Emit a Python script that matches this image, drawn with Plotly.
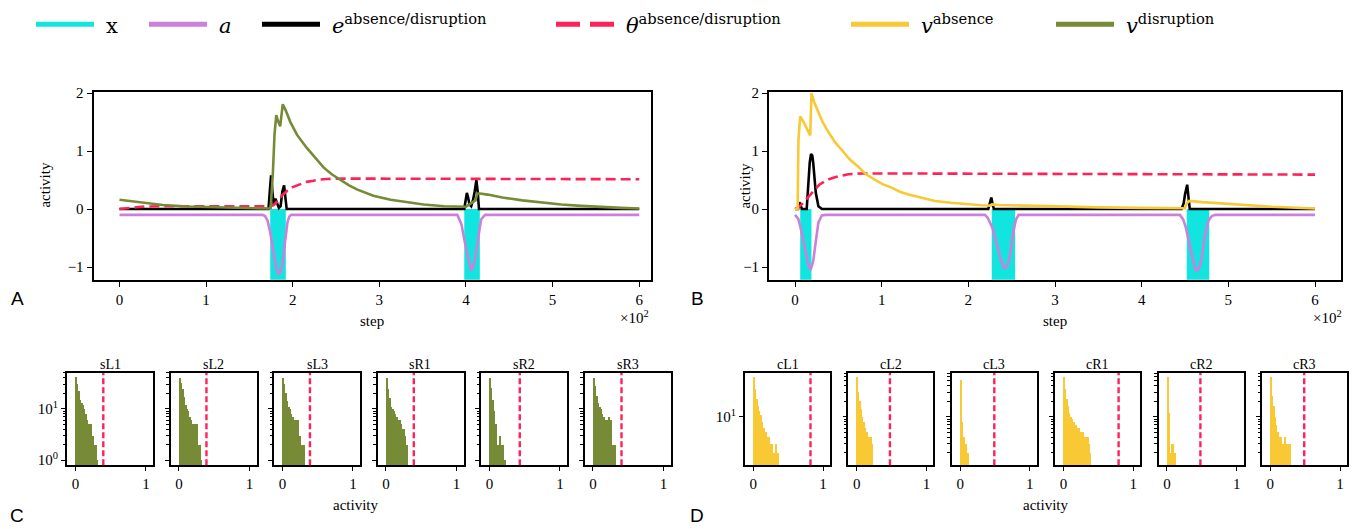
import plotly.graph_objects as go

W, H = 1356, 529
SERIF = "Liberation Serif"
LEG_SERIF = "DejaVu Serif"
SANS = "Liberation Sans"

C_X = "#12e5e0"
C_A = "#cc80dc"
C_E = "#000000"
C_T = "#ff2258"
C_VA = "#f8c935"
C_VD = "#778b36"

# ---------------- Panel A (disruption) ----------------
A_x_steps = [0, 174, 192, 398, 416, 600]
A_x_on = [0, 1, 0, 1, 0, 0]

A_a_steps = [0, 165, 168, 171, 174, 177, 180, 182, 184, 186, 188, 190, 192, 194, 196, 198,
             390, 394.7, 399, 403, 406, 409.7, 413.8, 417.4, 422, 600]
A_a_vals = [-0.1, -0.1, -0.12, -0.2, -0.4, -0.7, -0.95, -1.08, -1.12, -1.08, -0.95, -0.7, -0.45, -0.22, -0.13, -0.1,
            -0.1, -0.26, -0.6, -0.88, -1.07, -0.93, -0.49, -0.18, -0.1, -0.1]

A_e_steps = [0, 172, 173.5, 175, 176.5, 178, 180, 182, 184, 186, 188, 190, 191.5, 193,
             398, 399.5, 401, 402.5, 404, 406, 408, 410, 412, 413.5, 415, 600]
A_e_vals = [0, 0, 0.3, 0.58, 0.3, 0.08, 0.18, 0.1, 0.02, 0.05, 0.3, 0.41, 0.2, 0,
            0, 0.15, 0.28, 0.2, 0.08, 0.05, 0.15, 0.3, 0.5, 0.3, 0, 0]

A_th_steps = [0, 8, 15, 25, 34, 50, 100, 150, 174, 178, 181, 185, 188, 194, 200, 208, 216, 224, 231, 240,
              247, 260, 300, 400, 500, 600]
A_th_vals = [0.0, 0.015, 0.03, 0.04, 0.045, 0.05, 0.05, 0.05, 0.05, 0.07, 0.11, 0.17, 0.24, 0.32, 0.38, 0.43,
             0.47, 0.49, 0.51, 0.52, 0.525, 0.525, 0.525, 0.52, 0.52, 0.515]

A_v_steps = [0, 10, 20, 34, 50, 79, 100, 124, 150, 172, 174.5, 177, 179, 181, 183, 185.5, 188.5, 192, 197,
             205, 216, 226, 235.5, 245, 255, 265, 274, 293, 313, 330, 351, 375, 397, 400, 404, 408, 411,
             413, 416, 425, 442, 465, 488, 510, 533, 555, 579, 600]
A_v_vals = [0.16, 0.14, 0.12, 0.10, 0.07, 0.045, 0.035, 0.02, 0.015, 0.01, 0.02, 0.6, 1.3, 1.62, 1.52, 1.43,
            1.81, 1.70, 1.51, 1.28, 1.06, 0.88, 0.72, 0.6, 0.5, 0.41, 0.34, 0.23, 0.16, 0.12, 0.08, 0.05,
            0.03, 0.04, 0.08, 0.12, 0.15, 0.27, 0.27, 0.25, 0.2, 0.15, 0.11, 0.08, 0.055, 0.035, 0.02, 0.01]

# ---------------- Panel B (absence) ----------------
B_x_steps = [0, 6, 19, 227, 254, 452, 478, 600]
B_x_on = [0, 1, 0, 1, 0, 1, 0, 0]

B_a_steps = [0, 3.8, 7.7, 11.5, 15.4, 18, 21, 24, 27, 31, 35,
             219, 222, 227.7, 234.6, 238, 241.6, 245, 248, 251.8, 255, 258,
             444, 448, 451, 455, 458, 461, 463, 466, 469, 473, 477, 481, 485, 600]
B_a_vals = [-0.1, -0.17, -0.4, -0.68, -0.96, -1.05, -0.9, -0.56, -0.23, -0.11, -0.1,
            -0.1, -0.14, -0.32, -0.71, -0.9, -1.02, -0.98, -0.8, -0.4, -0.18, -0.1,
            -0.1, -0.18, -0.32, -0.58, -0.82, -1.0, -1.07, -1.03, -0.88, -0.45, -0.2, -0.12, -0.1, -0.1]

B_e_steps = [0, 3.5, 5, 6.5, 8, 13.5, 15.4, 17, 18.5, 20, 21, 22.5, 24, 27, 31,
             223, 225, 226.5, 228, 229.5, 446, 448.5, 450, 451.5, 452.5, 454, 455.5, 600]
B_e_vals = [0, 0, 0.12, 0.05, 0, 0, 0.45, 0.8, 0.95, 0.92, 0.8, 0.55, 0.28, 0.05, 0,
            0, 0.12, 0.2, 0.08, 0, 0, 0.1, 0.25, 0.38, 0.42, 0.2, 0, 0]

B_th_steps = [0, 4, 7.7, 11.5, 15.4, 19, 23, 28, 34.6, 40, 46, 54, 61.5, 70, 77, 100, 200, 300, 400, 500, 600]
B_th_vals = [0, 0.03, 0.08, 0.14, 0.2, 0.27, 0.34, 0.42, 0.48, 0.52, 0.55, 0.58, 0.6, 0.61, 0.615, 0.615,
             0.61, 0.605, 0.6, 0.6, 0.595]

B_v_steps = [0, 3, 4, 6, 10, 14, 17.5, 19, 22, 27, 32, 38.5, 46, 54, 63, 73, 82, 92, 101, 111.5, 121, 131,
             150, 161.5, 180, 201, 215, 225, 227, 235, 260, 300, 350, 400, 450, 452, 455, 470, 500, 521,
             550, 600]
B_v_vals = [0, 0, 1.2, 1.6, 1.5, 1.38, 1.27, 2.0, 1.85, 1.67, 1.5, 1.33, 1.16, 1.02, 0.86, 0.73, 0.6, 0.51,
            0.43, 0.37, 0.3, 0.25, 0.18, 0.14, 0.11, 0.08, 0.065, 0.06, 0.08, 0.07, 0.06, 0.045, 0.03, 0.02,
            0.015, 0.1, 0.14, 0.12, 0.09, 0.06, 0.04, 0.01]

# ---------------- Histograms ----------------
HIST_BIN = 0.02
C_names = ["sL1", "sL2", "sL3", "sR1", "sR2", "sR3"]
C_counts = [
    [42, 30, 22, 15, 13, 12, 10, 8, 6, 5, 4, 5, 3, 2, 2, 1],
    [40, 32, 24, 17, 12, 10, 9, 7, 6, 5, 5, 5, 5, 2, 2, 1],
    [40, 30, 20, 14, 11, 10, 8, 7, 6, 6, 6, 6, 3, 2, 2, 2],
    [40, 25, 16, 11, 10, 9, 8, 7, 6, 6, 5, 4, 4, 3, 2],
    [40, 26, 15, 9, 5, 2, 2, 3, 2, 2, 1, 1],
    [40, 28, 18, 13, 11, 10, 8, 7, 6, 6, 6, 7, 6, 2, 2, 2],
]
C_thresh = [0.395, 0.39, 0.39, 0.395, 0.43, 0.405]

D_names = ["cL1", "cL2", "cL3", "cR1", "cR2", "cR3"]
D_counts = [
    [61, 35, 22, 16, 13, 11, 8, 6, 5, 5, 4, 4, 3, 3, 2, 2, 3, 2],
    [59, 30, 20, 14, 10, 8, 6, 5, 4, 4, 4, 3],
    [52, 8, 4, 3, 3, 2],
    [59, 35, 22, 16, 12, 10, 9, 8, 7, 7, 6, 6, 5, 5, 5, 4, 4, 4, 3, 2],
    [59, 12, 2, 3, 3, 2],
    [59, 25, 16, 10, 7, 5, 4, 4, 3, 3, 4, 3, 3, 3, 3],
]
D_thresh = [0.82, 0.476, 0.49, 0.79, 0.48, 0.486]

step_ticks = [0, 100, 200, 300, 400, 500, 600]
step_ticktext = ["0", "1", "2", "3", "4", "5", "6"]
act_ticks = [-1, 0, 1, 2]
act_ticktext = ["\u22121", "0", "1", "2"]


def fx(p):
    return p / W


def fy(p):
    return 1 - p / H


X_FILL = 1.6
LW = 2.6
fig = go.Figure()


def add_panel(xa, ya, xs, xon, as_, av, es, ev, ts, tv, vs, vv, vcol):
    fig.add_trace(go.Scatter(x=xs, y=[-X_FILL * o for o in xon], mode="lines", line=dict(width=0, shape="hv"),
                             fill="tozeroy", fillcolor=C_X, showlegend=False, xaxis=xa, yaxis=ya, hoverinfo="skip"))
    fig.add_trace(go.Scatter(x=as_, y=av, mode="lines", line=dict(color=C_A, width=LW),
                             showlegend=False, xaxis=xa, yaxis=ya))
    fig.add_trace(go.Scatter(x=es, y=ev, mode="lines", line=dict(color=C_E, width=LW),
                             showlegend=False, xaxis=xa, yaxis=ya))
    fig.add_trace(go.Scatter(x=ts, y=tv, mode="lines", line=dict(color=C_T, width=LW, dash="10px,5px"),
                             showlegend=False, xaxis=xa, yaxis=ya))
    fig.add_trace(go.Scatter(x=vs, y=vv, mode="lines", line=dict(color=vcol, width=LW),
                             showlegend=False, xaxis=xa, yaxis=ya))


add_panel("x", "y", A_x_steps, A_x_on, A_a_steps, A_a_vals, A_e_steps, A_e_vals,
          A_th_steps, A_th_vals, A_v_steps, A_v_vals, C_VD)
add_panel("x2", "y2", B_x_steps, B_x_on, B_a_steps, B_a_vals, B_e_steps, B_e_vals,
          B_th_steps, B_th_vals, B_v_steps, B_v_vals, C_VA)

GAP = "\u2004"
leg_items = [
    (GAP + "x", C_X, "solid", 35),
    (GAP + "<i>a</i>", C_A, "solid", 148),
    (GAP + "<i>e</i><sup>absence/disruption</sup>", C_E, "solid", 261),
    (GAP + "<i>\u03b8</i><sup>absence/disruption</sup>", C_T, "24px,10px", 555),
    (GAP + "<i>v</i><sup>absence</sup>", C_VA, "solid", 850),
    (GAP + "<i>v</i><sup>disruption</sup>", C_VD, "solid", 1055),
]

axis_line = dict(showline=True, linecolor="black", linewidth=1.8, mirror=True, ticks="outside",
                 ticklen=5, tickwidth=1.3, tickcolor="black", showgrid=False, zeroline=False,
                 tickfont=dict(family=SERIF, size=15, color="black"))

layout = dict(
    width=W, height=H, margin=dict(l=0, r=0, t=0, b=0),
    paper_bgcolor="white", plot_bgcolor="white",
    font=dict(family=SERIF, size=15, color="black"),
    showlegend=True, bargap=0,
)

for i, (name, col, dash, xp) in enumerate(leg_items):
    lname = "legend" if i == 0 else f"legend{i + 1}"
    fig.add_trace(go.Scatter(x=[None], y=[None], mode="lines", name=name,
                             line=dict(color=col, width=5, dash=dash), legend=lname, xaxis="x", yaxis="y"))
    layout[lname] = dict(x=fx(xp - 4), y=fy(18), xanchor="left", yanchor="middle", orientation="h",
                         bgcolor="rgba(0,0,0,0)", itemwidth=58,
                         font=dict(family=LEG_SERIF, size=21, color="black"))

A_dom = [fx(93.5), fx(650.5)]
B_dom = [fx(769), fx(1341)]
top_dom = [fy(278), fy(86.7)]
layout["xaxis"] = dict(axis_line, domain=A_dom, range=[-30, 613], tickvals=step_ticks, ticktext=step_ticktext, anchor="y")
layout["yaxis"] = dict(axis_line, domain=top_dom, range=[-1.22, 2.02], tickvals=act_ticks, ticktext=act_ticktext, anchor="x")
layout["xaxis2"] = dict(axis_line, domain=B_dom, range=[-30, 630], tickvals=step_ticks, ticktext=step_ticktext, anchor="y2")
layout["yaxis2"] = dict(axis_line, domain=top_dom, range=[-1.22, 2.02], tickvals=act_ticks, ticktext=act_ticktext, anchor="x2")

annotations = []
shapes = []
hist_dom_y = [fy(467), fy(373)]
minor_vals = [2, 3, 4, 5, 6, 7, 8, 9, 20, 30, 40, 50, 60, 70, 80, 90]


def add_hist_row(names, counts, thresh, lefts, width, yrange, color, row_id, first_labels, first_minor):
    for j in range(6):
        n = 3 + row_id * 6 + j
        xa, ya = f"x{n}", f"y{n}"
        centers = [HIST_BIN * (k + 0.5) for k in range(len(counts[j]))]
        fig.add_trace(go.Bar(x=centers, y=counts[j], width=HIST_BIN, marker=dict(color=color, line=dict(width=0)),
                             showlegend=False, xaxis=xa, yaxis=ya))
        hx = dict(axis_line, domain=[fx(lefts[j]), fx(lefts[j] + width)], range=[-0.12, 1.1],
                  tickvals=[0, 1], ticktext=["0", "1"], anchor=ya, ticklen=4)
        hy = dict(axis_line, domain=hist_dom_y, type="log", range=yrange, anchor=xa, ticklen=4)
        if j == 0:
            hy["tickvals"] = first_labels[0]
            hy["ticktext"] = first_labels[1]
            if first_minor:
                hy["minor"] = dict(ticks="outside", ticklen=2.5, tickcolor="black", tickvals=minor_vals, tickwidth=1)
        else:
            hy["tickvals"] = first_labels[0]
            hy["showticklabels"] = False
            hy["minor"] = dict(ticks="outside", ticklen=2.5, tickcolor="black", tickvals=minor_vals, tickwidth=1)
        layout["xaxis" + str(n)] = hx
        layout["yaxis" + str(n)] = hy
        shapes.append(dict(type="line", xref=xa, yref=ya + " domain", x0=thresh[j], x1=thresh[j], y0=0, y1=1,
                           line=dict(color=C_T, width=2.4, dash="6px,3px")))
        annotations.append(dict(text=names[j], x=fx(lefts[j] + width / 2), y=fy(364), xref="paper", yref="paper",
                                showarrow=False, xanchor="center", yanchor="middle",
                                font=dict(family=SERIF, size=14, color="black")))


C_lefts = [67, 170.5, 274, 377.5, 481, 584.5]
D_lefts = [745, 848.4, 951.8, 1055.2, 1158.6, 1262]
add_hist_row(C_names, C_counts, C_thresh, C_lefts, 86, [-0.096, 1.70], C_VD, 0,
             ([1, 10], ["10<sup>0</sup>", "10<sup>1</sup>"]), True)
add_hist_row(D_names, D_counts, D_thresh, D_lefts, 85, [0.057, 1.855], C_VA, 1,
             ([10], ["10<sup>1</sup>"]), False)


def txt(t, x, y, size=15, fam=SERIF, angle=0, xanchor="center", yanchor="middle"):
    annotations.append(dict(text=t, x=fx(x), y=fy(y), xref="paper", yref="paper", showarrow=False,
                            xanchor=xanchor, yanchor=yanchor, textangle=angle,
                            font=dict(family=fam, size=size, color="black")))


txt("step", 372, 320)
txt("step", 1055, 320)
txt("activity", 45, 182, angle=-90)
txt("activity", 745, 182, angle=-90)
txt("\u00d710<sup>2</sup>", 651, 316, xanchor="right")
txt("\u00d710<sup>2</sup>", 1344, 316, xanchor="right")
txt("activity", 355, 508)
txt("activity", 1045, 508)
txt("A", 17, 297, size=19, fam=SANS)
txt("B", 697, 297, size=19, fam=SANS)
txt("C", 17, 518, size=19, fam=SANS)
txt("D", 697, 518, size=19, fam=SANS)

layout["annotations"] = annotations
layout["shapes"] = shapes
fig.update_layout(**layout)
fig.write_html("out.html", config={"displayModeBar": False},
               post_script="document.body.style.margin='0px';")
